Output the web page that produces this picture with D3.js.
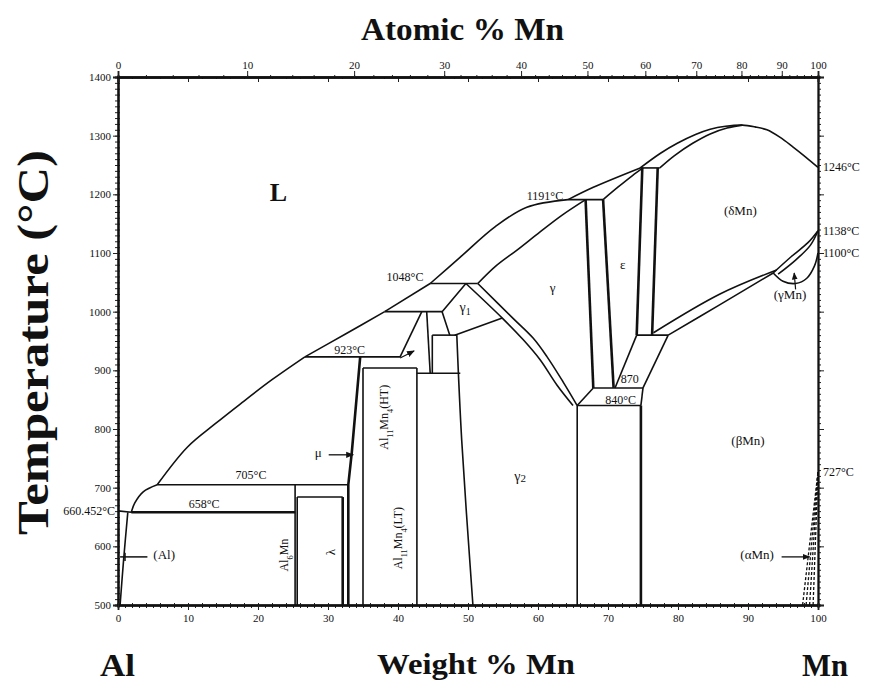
<!DOCTYPE html>
<html>
<head>
<meta charset="utf-8">
<script src="https://cdn.jsdelivr.net/npm/d3@7"></script>
<style>
body { margin: 0; background: #fff; }
svg text { font-family: "Liberation Serif", "DejaVu Serif", serif; fill: #111; }
</style>
</head>
<body>
<svg id="chart" width="869" height="684"></svg>
<script>
// Al-Mn phase diagram, points are [weight % Mn, temperature C]
var tempTicks = [500, 600, 700, 800, 900, 1000, 1100, 1200, 1300, 1400];
var wtTicks = [0, 10, 20, 30, 40, 50, 60, 70, 80, 90, 100];
var atTicks = [0, 10, 20, 30, 40, 50, 60, 70, 80, 90, 100];
var rightTemps = [1246, 1138, 1100, 727];
var invariants = [658, 705, 923, 1000, 1048, 1191, 1245];

var liquidus = [[0, 660.452], [1.9, 658], [2.4, 674], [3.6, 693], [5.6, 705], [9.9, 769], [13.9, 809], [17.5, 843],
  [22, 884], [26.7, 923], [32.5, 962], [38.1, 1000], [44.6, 1048], [48.9, 1093], [53.9, 1145], [58.4, 1178],
  [64.3, 1191], [67.9, 1212], [74.6, 1245], [77.5, 1270], [79.9, 1287], [82.5, 1302], [84.6, 1311],
  [86.8, 1316], [89.2, 1318], [91, 1315], [92.7, 1310], [94.6, 1297], [96.4, 1281], [98.2, 1264], [100, 1246]];
var deltaSolidus = [[77.4, 1245], [79.5, 1266], [82.1, 1287], [84.6, 1303], [87, 1313], [89.2, 1318]];
var epsSolidus = [[69.3, 1191], [71.5, 1213], [73.5, 1232], [75.0, 1245]];
var gammaSolidus = [[51.4, 1048], [54, 1078], [57, 1105], [60.3, 1136], [63.5, 1165], [66.8, 1191]];

var isotherms = [
  [[1.9, 658], [25.3, 658]],
  [[5.6, 705], [32.9, 705]],
  [[26.7, 923], [40.3, 923]],
  [[38.1, 1000], [46.3, 1000]],
  [[44.6, 1048], [51.4, 1048]],
  [[64.3, 1191], [69.3, 1191]],
  [[74.6, 1245], [77.4, 1245]],
  [[74.1, 960], [78.6, 960]],
  [[67.9, 870], [75.0, 870]],
  [[65.6, 840], [74.7, 840]],
  [[25.6, 684], [32.1, 684]],
  [[35, 904], [42.7, 904]],
  [[44.9, 960], [48.4, 960]],
  [[42.7, 895], [48.9, 895]]
];

var alSolvus = [[0.3, 500], [0.8, 577], [1.4, 658]];
var al6MnLine = [[25.3, 705], [25.3, 500]];
var lambdaLeft = [[25.6, 684], [25.6, 500]];
var lambdaRight = [[32.1, 684], [32.1, 500]];
var muLine = [[34.6, 923], [33.4, 760], [32.9, 705], [32.9, 500]];
var al11Left = [[35, 904], [35, 500]];
var al11Right = [[42.7, 904], [42.7, 500]];
var wedgeLeft = [[43.4, 1000], [40.3, 923]];
var wedgeRight = [[44.1, 1000], [44.6, 895]];
var boxLeft = [[44.9, 960], [44.9, 895]];
var gamma1Upper = [[49.7, 1048], [46.3, 1000], [47.4, 960]];
var gamma1Lower = [[48.1, 960], [54.9, 989]];
var gammaInner = [[49.7, 1048], [54.9, 989], [57.9, 952], [60.3, 918], [62.7, 875], [65.0, 840]];
var gammaOuter = [[51.4, 1048], [56.4, 989], [59.3, 955], [61.3, 923], [63.6, 880], [65.6, 840]];
var gamma2Left = [[48.4, 960], [49.1, 781], [50.7, 500]];
var gamma2Right = [[65.6, 840], [65.6, 500]];
var betaLeft = [[74.7, 840], [74.7, 500]];
var epsGammaL = [[66.8, 1191], [67.9, 870]];
var epsGammaR = [[69.3, 1191], [70.8, 870]];
var epsDeltaL = [[74.9, 1245], [74.1, 960]];
var epsDeltaR = [[77.1, 1245], [76.3, 960]];
var trapLeft = [[74.1, 960], [71.0, 870]];
var trapRight = [[78.6, 960], [75.0, 870]];
var lowLeft = [[67.9, 870], [65.6, 840]];
var lowRight = [[75.0, 870], [74.7, 840]];
var deltaBetaA = [[78.6, 960], [86, 1012], [93.6, 1066]];
var deltaBetaB = [[76.5, 964], [86, 1030], [94.1, 1071]];
var gammaMnTop = [[93.6, 1066], [96.2, 1094], [98.6, 1118], [100, 1138]];
var gammaMnTop2 = [[94.3, 1064], [96.8, 1088], [98.9, 1113], [100, 1138]];
var gammaMnLoop = [[93.6, 1066], [95, 1052], [96.8, 1048], [98.4, 1057], [99.5, 1078], [100, 1100]];
var alphaMn = [
  [[97.8, 500], [100, 727]],
  [[98.3, 500], [100, 727]],
  [[98.8, 500], [100, 727]],
  [[99.3, 500], [100, 727]]
];

var phaseLabels = [
  ["L", 22.9, 1188],
  ["γ", 62.1, 1034],
  ["ε", 72.1, 1073],
  ["(δMn)", 88.9, 1164],
  ["(γMn)", 96.0, 1021],
  ["(βMn)", 90.0, 772],
  ["(αMn)", 91.3, 578],
  ["(Al)", 6.6, 578],
  ["μ", 28.6, 752]
];
var tempLabels = [
  ["923°C", 33.1, 927],
  ["1048°C", 41.0, 1052],
  ["1191°C", 61.0, 1191],
  ["870", 73.1, 878],
  ["840°C", 71.8, 842],
  ["705°C", 19.0, 714],
  ["658°C", 12.3, 665]
];

var svg = d3.select("#chart");
var x = d3.scaleLinear().domain([0, 100]).range([118, 818]);
var y = d3.scaleLinear().domain([500, 1400]).range([605, 77]);
var line = d3.line().x(function(d) { return x(d[0]); }).y(function(d) { return y(d[1]); });
var smooth = d3.line().x(function(d) { return x(d[0]); }).y(function(d) { return y(d[1]); })
  .curve(d3.curveCatmullRom.alpha(0.5));

function atToWt(a) {
  return 100 * a * 54.938 / (a * 54.938 + (100 - a) * 26.982);
}

// cut the liquidus at the invariant points so the kinks stay sharp
var liqParts = [[liquidus[0]]];
liquidus.slice(1).forEach(function(p) {
  liqParts[liqParts.length - 1].push(p);
  if (invariants.indexOf(p[1]) >= 0) liqParts.push([p]);
});

svg.append("defs").append("marker")
  .attr("id", "arr").attr("viewBox", "0 0 10 10").attr("refX", 9).attr("refY", 5)
  .attr("markerWidth", 6).attr("markerHeight", 6).attr("orient", "auto")
  .append("path").attr("d", "M0,1 L10,5 L0,9 z").attr("fill", "#111");

// axes
var minorT = d3.range(500, 1401, 10);
var fmt = d3.format("d");
svg.append("g").attr("transform", "translate(118,0)")
  .call(d3.axisLeft(y).tickValues(minorT).tickSize(3).tickFormat(""));
svg.append("g").attr("transform", "translate(118,0)")
  .call(d3.axisRight(y).tickValues(minorT).tickSize(2).tickFormat(""));
svg.append("g").attr("class", "lab").attr("transform", "translate(118,0)")
  .call(d3.axisLeft(y).tickValues(tempTicks).tickSize(5).tickPadding(2).tickFormat(fmt));
svg.append("g").attr("transform", "translate(818,0)")
  .call(d3.axisRight(y).tickValues(minorT).tickSize(3).tickFormat(""));
svg.append("g").attr("transform", "translate(818,0)")
  .call(d3.axisRight(y).tickValues(tempTicks).tickSize(6).tickFormat(""));

svg.append("g").attr("transform", "translate(0,605)")
  .call(d3.axisBottom(x).tickValues(d3.range(0, 101, 1)).tickSize(3).tickFormat(""));
svg.append("g").attr("transform", "translate(0,605)")
  .call(d3.axisTop(x).tickValues(d3.range(0, 101, 2)).tickSize(2).tickFormat(""));
svg.append("g").attr("class", "lab").attr("transform", "translate(0,605)")
  .call(d3.axisBottom(x).tickValues(wtTicks).tickSize(5).tickPadding(4).tickFormat(fmt));

svg.append("g").attr("transform", "translate(0,77)")
  .call(d3.axisBottom(x).tickValues(d3.range(0, 101, 2)).tickSize(2).tickFormat(""));
svg.append("g").attr("transform", "translate(0,77)")
  .call(d3.axisBottom(x).tickValues(wtTicks).tickSize(5).tickFormat(""));
svg.append("g").attr("transform", "translate(0,77)")
  .call(d3.axisTop(x).tickValues(d3.range(0, 100, 2).map(atToWt)).tickSize(2).tickFormat(""));
svg.append("g").attr("class", "lab").attr("transform", "translate(0,77)")
  .call(d3.axisTop(x).tickValues(atTicks.map(atToWt)).tickSize(6).tickPadding(2)
    .tickFormat(function(d, i) { return atTicks[i]; }));

svg.selectAll(".domain").attr("stroke-width", 1.8).attr("stroke", "#111");
svg.selectAll(".tick line").attr("stroke", "#222");
svg.selectAll(".lab text").attr("font-size", 11).attr("font-family", "Liberation Serif, serif").attr("fill", "#222");

// phase boundaries
var curved = liqParts.concat([deltaSolidus, epsSolidus, gammaSolidus, alSolvus, gammaInner,
  gammaOuter, gamma2Left, deltaBetaA, deltaBetaB, gammaMnTop, gammaMnTop2, gammaMnLoop]);
var straight = [al6MnLine, lambdaLeft, al11Left, al11Right, wedgeLeft, wedgeRight, boxLeft,
  gamma1Upper, gamma1Lower, gamma2Right, trapLeft, trapRight, lowLeft, lowRight].concat(isotherms);
var thick = [lambdaRight, muLine, betaLeft, epsGammaL, epsGammaR, epsDeltaL, epsDeltaR, isotherms[0]];

svg.append("g").selectAll("path").data(curved).enter().append("path")
  .attr("d", smooth).attr("fill", "none").attr("stroke", "#111").attr("stroke-width", 1.6);
svg.append("g").selectAll("path").data(straight).enter().append("path")
  .attr("d", line).attr("fill", "none").attr("stroke", "#111").attr("stroke-width", 1.6)
  .attr("stroke-linejoin", "round");
svg.append("g").selectAll("path").data(thick).enter().append("path")
  .attr("d", line).attr("fill", "none").attr("stroke", "#111").attr("stroke-width", 2.6);
svg.append("g").selectAll("path").data(alphaMn).enter().append("path")
  .attr("d", line).attr("fill", "none").attr("stroke", "#111").attr("stroke-width", 1.3)
  .attr("stroke-dasharray", "3,2");

// pointer lines
svg.append("line").attr("x1", x(4.2)).attr("x2", x(0.3)).attr("y1", y(582)).attr("y2", y(582))
  .attr("stroke", "#111").attr("stroke-width", 1.5);
svg.append("line").attr("x1", x(1)).attr("x2", x(1)).attr("y1", y(575)).attr("y2", y(589))
  .attr("stroke", "#111").attr("stroke-width", 1.5);
svg.append("line").attr("x1", x(30.1)).attr("x2", x(33.6)).attr("y1", y(756)).attr("y2", y(756))
  .attr("stroke", "#111").attr("stroke-width", 1.3).attr("marker-end", "url(#arr)");
svg.append("line").attr("x1", x(94.8)).attr("x2", x(98.8)).attr("y1", y(582)).attr("y2", y(582))
  .attr("stroke", "#111").attr("stroke-width", 1.3).attr("marker-end", "url(#arr)");
svg.append("line").attr("x1", x(96.8)).attr("x2", x(96.6)).attr("y1", y(1038)).attr("y2", y(1066))
  .attr("stroke", "#111").attr("stroke-width", 1.2).attr("marker-end", "url(#arr)");
svg.append("line").attr("x1", x(40.3)).attr("x2", x(42.3)).attr("y1", y(921)).attr("y2", y(933))
  .attr("stroke", "#111").attr("stroke-width", 1.3).attr("marker-end", "url(#arr)");

// labels
svg.append("g").selectAll("text").data(phaseLabels).enter().append("text")
  .attr("x", function(d) { return x(d[1]); }).attr("y", function(d) { return y(d[2]); })
  .attr("text-anchor", "middle")
  .attr("font-size", function(d) { return d[0] === "L" ? 26 : 13; })
  .attr("font-weight", function(d) { return d[0] === "L" ? "bold" : "normal"; })
  .text(function(d) { return d[0]; });
svg.append("text").attr("x", x(48.8)).attr("y", y(1000)).attr("font-size", 14)
  .text("γ").append("tspan").attr("font-size", 10).attr("dy", 3).text("1");
svg.append("text").attr("x", x(56.6)).attr("y", y(712)).attr("font-size", 14)
  .text("γ").append("tspan").attr("font-size", 11).attr("dy", 1).text("2");

svg.append("g").selectAll("text").data(tempLabels).enter().append("text")
  .attr("x", function(d) { return x(d[1]); }).attr("y", function(d) { return y(d[2]); })
  .attr("text-anchor", "middle").attr("font-size", 12)
  .text(function(d) { return d[0]; });

svg.append("g").selectAll("text").data(rightTemps).enter().append("text")
  .attr("x", x(100) + 5).attr("y", function(d) { return y(d) + 4; })
  .attr("font-size", 12).text(function(d) { return d + "°C"; });
svg.append("text").attr("x", x(0) - 3).attr("y", y(660.452) + 4).attr("text-anchor", "end")
  .attr("font-size", 12).text("660.452°C");

function vertLabel(wt, t, parts, size) {
  var tx = svg.append("text").attr("font-size", size).attr("text-anchor", "middle")
    .attr("transform", "translate(" + x(wt) + "," + y(t) + ") rotate(-90)");
  parts.forEach(function(p) {
    var ts = tx.append("tspan").text(p[0]);
    if (p[1]) ts.attr("baseline-shift", "sub").attr("font-size", size * 0.7);
  });
}
vertLabel(24.3, 585, [["Al"], ["6", 1], ["Mn"]], 12);
vertLabel(31.0, 590, [["λ"]], 13);
vertLabel(38.6, 820, [["Al"], ["11", 1], ["Mn"], ["4", 1], ["(HT)"]], 12);
vertLabel(40.6, 614, [["Al"], ["11", 1], ["Mn"], ["4", 1], ["(LT)"]], 12);

// axis titles
svg.append("text").attr("x", 361).attr("y", 40).attr("font-size", 32).attr("font-weight", "bold")
  .attr("textLength", 203).attr("lengthAdjust", "spacingAndGlyphs").text("Atomic % Mn");
svg.append("text").attr("x", 377).attr("y", 674).attr("font-size", 29).attr("font-weight", "bold")
  .attr("textLength", 198).attr("lengthAdjust", "spacingAndGlyphs").text("Weight % Mn");
svg.append("text").attr("x", 100).attr("y", 676).attr("font-size", 31).attr("font-weight", "bold")
  .attr("textLength", 35).attr("lengthAdjust", "spacingAndGlyphs").text("Al");
svg.append("text").attr("x", 802).attr("y", 676).attr("font-size", 31).attr("font-weight", "bold")
  .attr("textLength", 46).attr("lengthAdjust", "spacingAndGlyphs").text("Mn");
svg.append("text").attr("transform", "translate(48,535) rotate(-90)").attr("font-size", 44)
  .attr("font-weight", "bold").attr("textLength", 385).attr("lengthAdjust", "spacingAndGlyphs")
  .text("Temperature (°C)");
</script>
</body>
</html>
